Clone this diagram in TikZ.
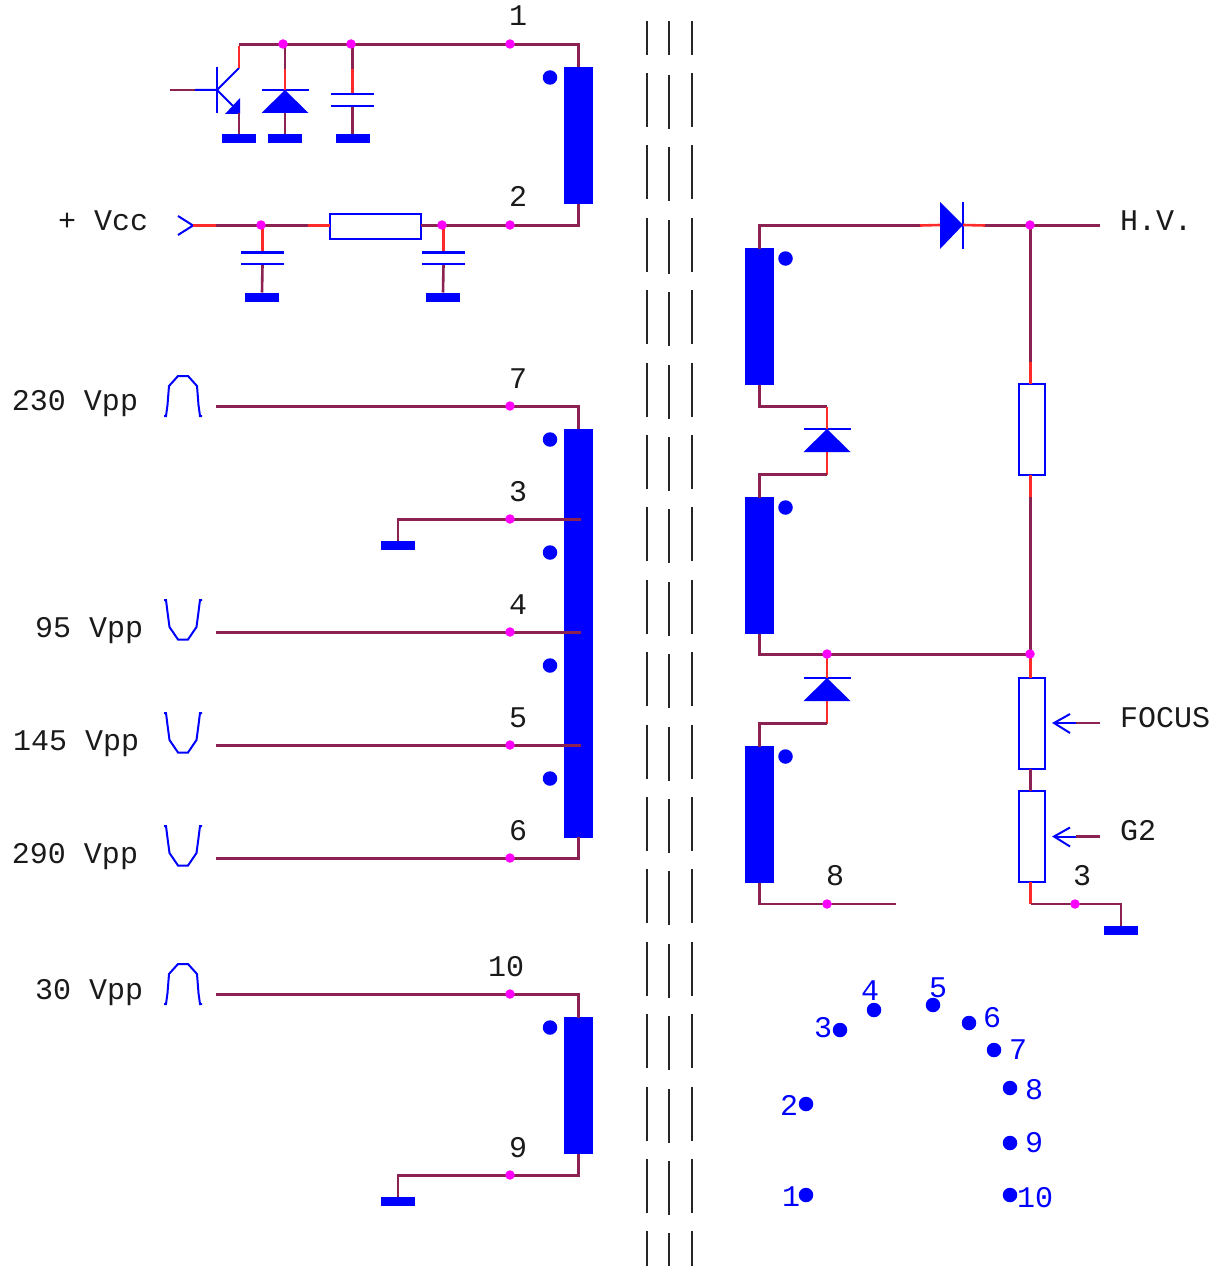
\documentclass[tikz,border=0pt]{standalone}
\usepackage{fontspec}
\setmainfont{Liberation Mono}
\definecolor{wirem}{HTML}{8B2252}
\definecolor{wirer}{HTML}{FF2A2A}
\definecolor{bl}{HTML}{0000FF}
\definecolor{mag}{HTML}{FF00FF}
\definecolor{txt}{HTML}{1A1A1A}
\tikzset{
  wire/.style={draw=wirem,line width=2.6pt},
  hot/.style={draw=wirer,line width=2.6pt},
  sym/.style={draw=bl,line width=2pt},
  junc/.style={circle,fill=mag,draw=none,minimum size=9.5pt,inner sep=0pt,outer sep=0pt},
  winding/.style={rectangle,draw=bl,fill=bl,line width=1pt,minimum width=28pt,minimum height=136pt,inner sep=0pt,outer sep=0pt},
  res/.style={rectangle,draw=bl,fill=white,line width=2pt,inner sep=0pt,outer sep=0pt},
  resh/.style={res,minimum width=91pt,minimum height=25pt},
  resv/.style={res,minimum width=26pt,minimum height=91pt},
  gnd/.style={rectangle,fill=bl,draw=none,minimum width=34pt,minimum height=9pt,inner sep=0pt,outer sep=0pt},
  plate/.style={rectangle,fill=bl,draw=none,minimum width=43pt,minimum height=2.2pt,inner sep=0pt,outer sep=0pt},
  dotm/.style={circle,fill=bl,draw=none,minimum size=14.5pt,inner sep=0pt,outer sep=0pt},
  lbl/.style={font=\fontsize{30}{30}\selectfont,text=txt,inner sep=0pt,outer sep=0pt},
  pinl/.style={font=\fontsize{30}{30}\selectfont,text=bl,inner sep=0pt,outer sep=0pt,anchor=base},
  core/.style={draw=black!85,line width=2pt},
  diodev/.pic={
    \fill[bl] (0,0) -- (-23.5,23) -- (23.5,23) -- cycle;
    \draw[sym] (-23.5,0) -- (23.5,0);
  },
  pulseup/.pic={
    \draw[sym] (-1,40) -- (1,40) -- (2.5,29) -- (4,10) -- (13,0) -- (23,0) -- (32,10) -- (33.5,29) -- (35,40) -- (37,40);
  },
  pulsedn/.pic={
    \draw[sym] (-1,0) -- (1,0) -- (2.5,12) -- (4.5,27) -- (13,39.5) -- (23,39.5) -- (31.5,27) -- (33.5,12) -- (35,0) -- (37,0);
  },
  taparrow/.pic={
    \draw[sym] (16,-9) -- (0,0) -- (16,10);
    \draw[sym] (0,0) -- (22,0);
  },
}
\begin{document}
\begin{tikzpicture}[x=1pt,y=-1pt]
\useasboundingbox (0,0) rectangle (1218,1268);

% core
\foreach \cx/\off in {647/0,669/2,692/0}{
  \draw[core] (\cx,21) -- (\cx,55);
  \foreach \k in {0,...,16}{
    \pgfmathsetmacro{\ya}{73+\k*72.4+\off}
    \pgfmathsetmacro{\yb}{min(127+\k*72.4+\off,1266)}
    \draw[core] (\cx,\ya) -- (\cx,\yb);
  }
}

% windings
\node[winding] (wa) at (578.5,135.5) {};
\node[winding,minimum height=408pt] (wb) at (578.5,633) {};
\node[winding] (wc) at (578.5,1085.5) {};
\node[winding] (wd) at (759.5,316.5) {};
\node[winding] (we) at (759.5,565.5) {};
\node[winding] (wf) at (759.5,814.5) {};
\foreach \n/\x/\y in {da/550/77.5,db/550/439.5,dc/550/552.5,dd/550/665.5,de/550/778.5,df/550/1027.5,dg/785.5/258.5,dh/785.5/507.5,di/785.5/756.5}{
  \node[dotm] (\n) at (\x,\y) {};
}

% grounds
\node[gnd] (g1) at (239,138.5) {};
\node[gnd] (g2) at (285,138.5) {};
\node[gnd] (g3) at (352.5,138.5) {};
\node[gnd] (g4) at (262,297) {};
\node[gnd] (g5) at (443,297) {};
\node[gnd] (g6) at (398,545.5) {};
\node[gnd] (g7) at (398,1201.5) {};
\node[gnd] (g8) at (1121,930.5) {};

% resistors
\node[resh] (r1) at (375.5,226.5) {};
\node[resv] (r2) at (1032,429.5) {};
\node[resv] (r3) at (1032,723.5) {};
\node[resv] (r4) at (1032,836.5) {};

% capacitor plates
\node[plate] (c1a) at (352.5,94) {};
\node[plate] (c1b) at (352.5,106) {};
\node[plate] (c2a) at (262.5,252.5) {};
\node[plate] (c2b) at (262.5,264) {};
\node[plate] (c3a) at (443.5,252.5) {};
\node[plate] (c3b) at (443.5,264) {};

% diodes
\coordinate (d1t) at (285,90);   \coordinate (d1b) at (285,113);
\coordinate (d3t) at (827,429);  \coordinate (d3b) at (827,452);
\coordinate (d4t) at (827,678);  \coordinate (d4b) at (827,701);
\pic at (d1t) {diodev};
\pic at (d3t) {diodev};
\pic at (d4t) {diodev};
\coordinate (d2a) at (940,225);
\coordinate (d2k) at (963,225);
\fill[bl] (940,202) -- (963,225) -- (940,249) -- cycle;
\draw[sym] (963,202) -- (963,249);

% transistor
\coordinate (qb) at (217,90);
\coordinate (qc) at (239,68);
\coordinate (qe) at (239,113);
\draw[sym] (217,67) -- (217,113);
\draw[sym] (195,90) -- (qb) -- (qc);
\draw[sym] (qb) -- (233,106);
\fill[bl] (240,98) -- (240,114) -- (225,114) -- cycle;

% Vcc chevron
\coordinate (vin) at (193,225.5);
\draw[sym] (178,216) -- (vin) -- (178,235);

% pulses
\pic at (165,376) {pulseup};
\pic at (165,600) {pulsedn};
\pic at (165,713) {pulsedn};
\pic at (165,826) {pulsedn};
\pic at (165,964) {pulseup};

% tap arrows
\coordinate (ta) at (1054,723);
\coordinate (tb) at (1054,836.5);
\pic at (ta) {taparrow};
\pic at (tb) {taparrow};

% junction points
\foreach \n/\x/\y in {j1/510/44,j1a/283/44,j1b/351/44,j2/510/225,j2a/261/225,j2b/442/225,
  j7/510/406,j3/510/519,j4/510/632,j5/510/745,j6/510/858,j10/510/994,j9/510/1175,
  jhv/1030/225,jm/1030/654,jd/827/654,j8/827/904,j3r/1075/904}{
  \coordinate (\n) at (\x,\y);
}

% upper primary
\coordinate (t1) at (578.5,44.5);
\coordinate (t2) at (239,44.5);
\draw[wire] (wa.north) -- (t1) -- (t2);
\draw[hot] (239,46) -- (qc);
\draw[wire] (qe) -- (g1.north);
\draw[wire] (170,90) -- (195,90);
\coordinate (d1m) at (285,69);
\draw[wire] (285,44.5) -- (d1m);
\draw[hot] (d1m) -- (d1t);
\draw[wire] (d1b) -- (g2.north);
\coordinate (c1m) at (352.5,69);
\draw[wire] (352.5,44.5) -- (c1m);
\draw[hot] (c1m) -- (c1a.north);
\draw[wire] (c1b.south) -- (g3.north);

% Vcc line
\coordinate (v1) at (216,225.5);
\coordinate (v2) at (308,225.5);
\coordinate (v3) at (330,225.5);
\coordinate (t3) at (578.5,225.5);
\draw[hot] (vin) -- (v1);
\draw[wire] (v1) -- (v2);
\draw[hot] (v2) -- (v3);
\draw[wire] (r1.east |- t3) -- (t3) -- (wa.south);
\draw[hot] (262.5,225.5) -- (c2a.north);
\draw[wire] (c2b.south) -- (g4.north);
\draw[hot] (443.5,225.5) -- (c3a.north);
\draw[wire] (c3b.south) -- (g5.north);

% centre primary
\coordinate (i7) at (216,406.5);
\coordinate (i4) at (216,632.5);
\coordinate (i5) at (216,745.5);
\coordinate (i6) at (216,858.5);
\coordinate (i10) at (216,994.5);
\coordinate (b3) at (581,519.5);
\coordinate (b4) at (581,632.5);
\coordinate (b5) at (581,745.5);
\coordinate (t7) at (578.5,406.5);
\coordinate (t6) at (578.5,858.5);
\coordinate (t10) at (578.5,994.5);
\coordinate (t9) at (578.5,1175.5);
\draw[wire] (i7) -- (t7) -- (wb.north);
\draw[wire] (g6.north) |- (b3);
\draw[wire] (i4) -- (b4);
\draw[wire] (i5) -- (b5);
\draw[wire] (i6) -- (t6) -- (wb.south);
\draw[wire] (i10) -- (t10) -- (wc.north);
\draw[wire] (g7.north) |- (t9) -- (wc.south);

% secondary
\coordinate (s1) at (920,225.5);
\coordinate (s2) at (985,225.5);
\coordinate (s3) at (1100,225.5);
\coordinate (sv) at (1030.5,225.5);
\draw[wire] (wd.north) |- (s1);
\draw[hot] (s1) -- (d2a);
\draw[hot] (d2k) -- (s2);
\draw[wire] (s2) -- (s3);
\coordinate (s4) at (1030.5,362);
\coordinate (s5) at (1030.5,497);
\coordinate (s6) at (1030.5,654.5);
\coordinate (s7) at (1030.5,904);
\coordinate (s8) at (1121,904);
\draw[wire] (sv) -- (s4);
\draw[hot] (s4) -- (s4 |- r2.north);
\draw[hot] (s5 |- r2.south) -- (s5);
\draw[wire] (s5) -- (s6);
\draw[hot] (s6) -- (s6 |- r3.north);
\draw[wire] (s6 |- r3.south) -- (s6 |- r4.north);
\draw[hot] (s6 |- r4.south) -- (s7);
\draw[wire] (s7) -- (s8) -- (g8.north);
\coordinate (u1) at (827,406.5);
\coordinate (u2) at (827,474.5);
\coordinate (u3) at (827,654.5);
\coordinate (u4) at (827,723.5);
\coordinate (u5) at (896,904);
\draw[wire] (wd.south) |- (u1);
\draw[hot] (u1) -- (d3t);
\draw[hot] (d3b) -- (u2);
\draw[wire] (u2) -| (we.north);
\draw[wire] (we.south) |- (s6);
\draw[hot] (u3) -- (d4t);
\draw[hot] (d4b) -- (u4);
\draw[wire] (u4) -| (wf.north);
\draw[wire] (wf.south) |- (u5);
% tap leads
\coordinate (ta2) at (1100,723);
\coordinate (tb2) at (1100,836.5);
\draw[wire] (1076,723) -- (ta2);
\draw[wire] (1076,836.5) -- (tb2);

% junction dots
\foreach \n in {j1,j1a,j1b,j2,j2a,j2b,j7,j3,j4,j5,j6,j10,j9,jhv,jm,jd,j8,j3r}{
  \node[junc] at (\n) {};
}

% pin diagram
\foreach \n/\x/\y in {p1/806/1195,p2/806/1104,p3/840/1030,p4/874/1010,p5/933/1005,p6/969/1023,p7/994/1050,p8/1010/1088,p9/1010/1143,p10/1010/1195}{
  \node[dotm] (\n) at (\x,\y) {};
}
\node[pinl] (q1) at (791,1206) {1};
\node[pinl] (q2) at (789,1115) {2};
\node[pinl] (q3) at (823,1037) {3};
\node[pinl] (q4) at (870,1000) {4};
\node[pinl] (q5) at (938,997) {5};
\node[pinl] (q6) at (992,1027) {6};
\node[pinl] (q7) at (1018,1059) {7};
\node[pinl] (q8) at (1034,1099) {8};
\node[pinl] (q9) at (1034,1152) {9};
\node[pinl] (q10) at (1035,1207) {10};

% labels
\node[lbl,anchor=base] (n1) at (518,26) {1};
\node[lbl,anchor=base] (n2) at (518,207) {2};
\node[lbl,anchor=base] (n7) at (518,388) {7};
\node[lbl,anchor=base] (n3) at (518,501) {3};
\node[lbl,anchor=base] (n4) at (518,614) {4};
\node[lbl,anchor=base] (n5) at (518,727) {5};
\node[lbl,anchor=base] (n6) at (518,840) {6};
\node[lbl,anchor=base] (n10) at (506,976) {10};
\node[lbl,anchor=base] (n9) at (518,1157) {9};
\node[lbl,anchor=base] (n8) at (835,885) {8};
\node[lbl,anchor=base] (n3r) at (1082,885) {3};
\node[lbl,anchor=base west] (vcc) at (58,230) {+ Vcc};
\node[lbl,anchor=base west] (v230) at (12,410) {230 Vpp};
\node[lbl,anchor=base west] (v95) at (35,637) {95 Vpp};
\node[lbl,anchor=base west] (v145) at (13,750) {145 Vpp};
\node[lbl,anchor=base west] (v290) at (12,863) {290 Vpp};
\node[lbl,anchor=base west] (v30) at (35,999) {30 Vpp};
\node[lbl,anchor=base west] (hv) at (1120,230) {H.V.};
\node[lbl,anchor=base west] (foc) at (1120,727) {FOCUS};
\node[lbl,anchor=base west] (g2l) at (1120,840) {G2};
\end{tikzpicture}
\end{document}
